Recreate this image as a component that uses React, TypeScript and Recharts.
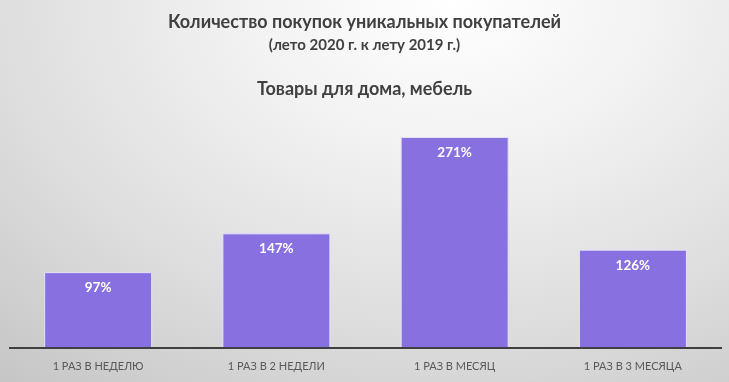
import { BarChart, Bar, XAxis, YAxis, LabelList } from 'recharts'

const categories = ['1 РАЗ В НЕДЕЛЮ', '1 РАЗ В 2 НЕДЕЛИ', '1 РАЗ В МЕСЯЦ', '1 РАЗ В 3 МЕСЯЦА']
const growth = [97, 147, 271, 126]

const titleLines = [
  'Количество покупок уникальных покупателей',
  '(лето 2020 г. к лету 2019 г.)',
  'Товары для дома, мебель',
]

const font = 'Lato, "Open Sans", "Liberation Sans", sans-serif'

export default function App() {
  const data = categories.map((name, i) => ({ name, value: growth[i] }))

  return (
    <div
      style={{
        position: 'fixed',
        top: 0,
        left: 0,
        width: 729,
        height: 382,
        fontFamily: font,
        background:
          'radial-gradient(ellipse 95% 130% at 62% 0%, #ffffff 0%, #f2f2f2 30%, #dedede 65%, #c6c6c6 100%)',
      }}
    >
      <div style={{ position: 'absolute', top: 9, left: 0, width: 729, textAlign: 'center', color: '#404040' }}>
        <div style={{ fontSize: 18, fontWeight: 'bold', lineHeight: '24px' }}>{titleLines[0]}</div>
        <div style={{ fontSize: 15, fontWeight: 'bold', lineHeight: '22px' }}>{titleLines[1]}</div>
        <div style={{ fontSize: 18, fontWeight: 'bold', lineHeight: '24px', marginTop: 21 }}>{titleLines[2]}</div>
      </div>
      <div style={{ position: 'absolute', top: 0, left: 0 }}>
        <BarChart
          width={729}
          height={382}
          data={data}
          margin={{ top: 115, right: 7, left: 9, bottom: 4 }}
          barCategoryGap="20%"
        >
          <XAxis
            dataKey="name"
            axisLine={{ stroke: '#404040', strokeWidth: 2 }}
            tickLine={false}
            tickSize={0}
            tickMargin={14}
            height={30}
            tick={{ fill: '#595959', fontSize: 11, fontFamily: font }}
          />
          <YAxis hide domain={[0, 300]} />
          <Bar dataKey="value" fill="#8870e0" stroke="#e6e1f8" strokeWidth={1} isAnimationActive={false}>
            <LabelList
              dataKey="value"
              position="insideTop"
              offset={10}
              formatter={(v: number) => `${v}%`}
              style={{ fill: '#ffffff', fontSize: 13.5, fontWeight: 'bold', fontFamily: font }}
            />
          </Bar>
        </BarChart>
      </div>
    </div>
  )
}
